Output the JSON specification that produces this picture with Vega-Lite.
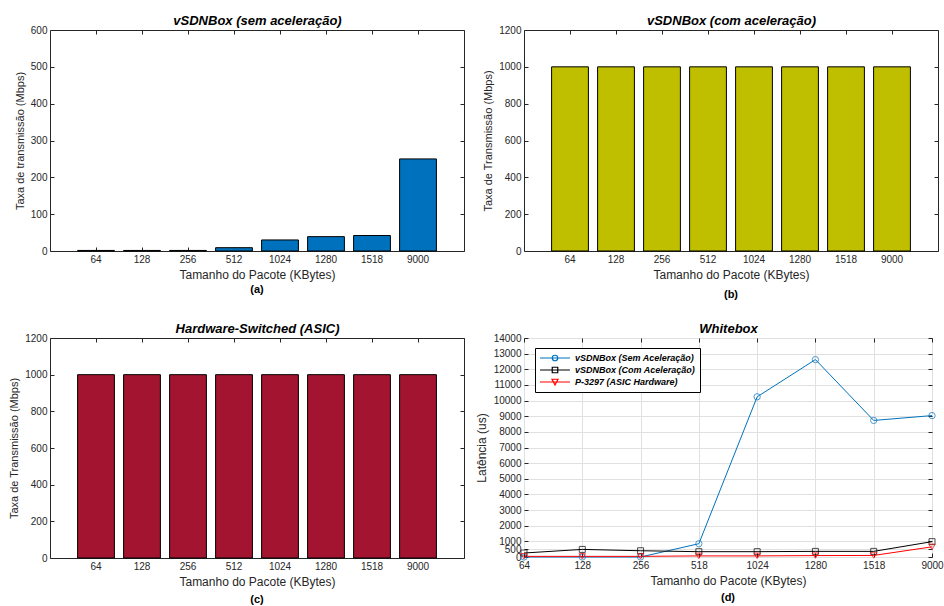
{
  "$schema": "https://vega.github.io/schema/vega-lite/v6.json",
  "padding": {"left": 8, "top": 14, "right": 0, "bottom": 0},
  "background": "white",
  "columns": 2,
  "bounds": "flush",
  "spacing": {"column": 60, "row": 87},
  "datasets": {
    "a": [
      {"size": "64", "rate": 1.5}, {"size": "128", "rate": 1.5}, {"size": "256", "rate": 1.5}, {"size": "512", "rate": 9},
      {"size": "1024", "rate": 30}, {"size": "1280", "rate": 39}, {"size": "1518", "rate": 42}, {"size": "9000", "rate": 250}
    ],
    "b": [
      {"size": "64", "rate": 1000}, {"size": "128", "rate": 1000}, {"size": "256", "rate": 1000}, {"size": "512", "rate": 1000},
      {"size": "1024", "rate": 1000}, {"size": "1280", "rate": 1000}, {"size": "1518", "rate": 1000}, {"size": "9000", "rate": 1000}
    ],
    "c": [
      {"size": "64", "rate": 1000}, {"size": "128", "rate": 1000}, {"size": "256", "rate": 1000}, {"size": "512", "rate": 1000},
      {"size": "1024", "rate": 1000}, {"size": "1280", "rate": 1000}, {"size": "1518", "rate": 1000}, {"size": "9000", "rate": 1000}
    ],
    "d": [
      {"size": "64", "series": "vSDNBox (Sem Aceleração)", "lat": 0},
      {"size": "128", "series": "vSDNBox (Sem Aceleração)", "lat": 0},
      {"size": "256", "series": "vSDNBox (Sem Aceleração)", "lat": 0},
      {"size": "518", "series": "vSDNBox (Sem Aceleração)", "lat": 850},
      {"size": "1024", "series": "vSDNBox (Sem Aceleração)", "lat": 10240},
      {"size": "1280", "series": "vSDNBox (Sem Aceleração)", "lat": 12620},
      {"size": "1518", "series": "vSDNBox (Sem Aceleração)", "lat": 8730},
      {"size": "9000", "series": "vSDNBox (Sem Aceleração)", "lat": 9040},
      {"size": "64", "series": "vSDNBox (Com Aceleração)", "lat": 255},
      {"size": "128", "series": "vSDNBox (Com Aceleração)", "lat": 485},
      {"size": "256", "series": "vSDNBox (Com Aceleração)", "lat": 400},
      {"size": "518", "series": "vSDNBox (Com Aceleração)", "lat": 340},
      {"size": "1024", "series": "vSDNBox (Com Aceleração)", "lat": 340},
      {"size": "1280", "series": "vSDNBox (Com Aceleração)", "lat": 360},
      {"size": "1518", "series": "vSDNBox (Com Aceleração)", "lat": 360},
      {"size": "9000", "series": "vSDNBox (Com Aceleração)", "lat": 980},
      {"size": "64", "series": "P-3297 (ASIC Hardware)", "lat": 40},
      {"size": "128", "series": "P-3297 (ASIC Hardware)", "lat": 40},
      {"size": "256", "series": "P-3297 (ASIC Hardware)", "lat": 40},
      {"size": "518", "series": "P-3297 (ASIC Hardware)", "lat": 70},
      {"size": "1024", "series": "P-3297 (ASIC Hardware)", "lat": 70},
      {"size": "1280", "series": "P-3297 (ASIC Hardware)", "lat": 90},
      {"size": "1518", "series": "P-3297 (ASIC Hardware)", "lat": 100},
      {"size": "9000", "series": "P-3297 (ASIC Hardware)", "lat": 650}
    ]
  },
  "concat": [
    {
      "width": 414, "height": 221,
      "data": {"name": "a"},
      "title": {"text": "(a)", "orient": "bottom", "fontSize": 11, "fontWeight": "bold", "color": "#000000", "offset": 4},
      "layer": [
        {
          "mark": {"type": "bar", "color": "#0072BD", "stroke": "#000000", "strokeWidth": 1},
          "encoding": {
            "x": {"field": "size", "type": "ordinal", "sort": null, "scale": {"paddingInner": 0.2, "paddingOuter": 0.6},
                  "axis": {"orient": "bottom", "title": "Tamanho do Pacote (KBytes)", "labelAngle": 0}},
            "y": {"field": "rate", "type": "quantitative", "scale": {"domain": [0, 600], "nice": false},
                  "axis": {"orient": "left", "values": [0, 100, 200, 300, 400, 500, 600], "format": "d", "title": "Taxa de transmissão (Mbps)", "titleFontSize": 11}}
          }
        },
        {
          "mark": {"type": "bar", "opacity": 0},
          "encoding": {
            "x": {"field": "size", "type": "ordinal", "sort": null,
                  "axis": {"orient": "top", "labels": false, "title": "vSDNBox (sem aceleração)", "titleFontSize": 13, "titleFontWeight": "bold", "titleFontStyle": "italic", "titleColor": "#000000", "titlePadding": 2}},
            "y": {"field": "rate", "type": "quantitative",
                  "axis": {"orient": "right", "values": [0, 100, 200, 300, 400, 500, 600], "labels": false, "title": null}}
          }
        }
      ],
      "resolve": {"axis": {"x": "independent", "y": "independent"}}
    },
    {
      "width": 414, "height": 221,
      "data": {"name": "b"},
      "title": {"text": "(b)", "orient": "bottom", "fontSize": 11, "fontWeight": "bold", "color": "#000000", "offset": 9},
      "layer": [
        {
          "mark": {"type": "bar", "color": "#BFBF00", "stroke": "#000000", "strokeWidth": 1},
          "encoding": {
            "x": {"field": "size", "type": "ordinal", "sort": null, "scale": {"paddingInner": 0.2, "paddingOuter": 0.6},
                  "axis": {"orient": "bottom", "title": "Tamanho do Pacote (KBytes)", "labelAngle": 0}},
            "y": {"field": "rate", "type": "quantitative", "scale": {"domain": [0, 1200], "nice": false},
                  "axis": {"orient": "left", "values": [0, 200, 400, 600, 800, 1000, 1200], "format": "d", "title": "Taxa de Transmissão (Mbps)", "titleFontSize": 11}}
          }
        },
        {
          "mark": {"type": "bar", "opacity": 0},
          "encoding": {
            "x": {"field": "size", "type": "ordinal", "sort": null,
                  "axis": {"orient": "top", "labels": false, "title": "vSDNBox (com aceleração)", "titleFontSize": 13, "titleFontWeight": "bold", "titleFontStyle": "italic", "titleColor": "#000000", "titlePadding": 2}},
            "y": {"field": "rate", "type": "quantitative",
                  "axis": {"orient": "right", "values": [0, 200, 400, 600, 800, 1000, 1200], "labels": false, "title": null}}
          }
        }
      ],
      "resolve": {"axis": {"x": "independent", "y": "independent"}}
    },
    {
      "width": 414, "height": 220,
      "data": {"name": "c"},
      "title": {"text": "(c)", "orient": "bottom", "fontSize": 11, "fontWeight": "bold", "color": "#000000", "offset": 7},
      "layer": [
        {
          "mark": {"type": "bar", "color": "#A2142F", "stroke": "#000000", "strokeWidth": 1},
          "encoding": {
            "x": {"field": "size", "type": "ordinal", "sort": null, "scale": {"paddingInner": 0.2, "paddingOuter": 0.6},
                  "axis": {"orient": "bottom", "title": "Tamanho do Pacote (KBytes)", "labelAngle": 0}},
            "y": {"field": "rate", "type": "quantitative", "scale": {"domain": [0, 1200], "nice": false},
                  "axis": {"orient": "left", "values": [0, 200, 400, 600, 800, 1000, 1200], "format": "d", "title": "Taxa de Transmissão (Mbps)", "titleFontSize": 11}}
          }
        },
        {
          "mark": {"type": "bar", "opacity": 0},
          "encoding": {
            "x": {"field": "size", "type": "ordinal", "sort": null,
                  "axis": {"orient": "top", "labels": false, "title": "Hardware-Switched (ASIC)", "titleFontSize": 13, "titleFontWeight": "bold", "titleFontStyle": "italic", "titleColor": "#000000", "titlePadding": 2}},
            "y": {"field": "rate", "type": "quantitative",
                  "axis": {"orient": "right", "values": [0, 200, 400, 600, 800, 1000, 1200], "labels": false, "title": null}}
          }
        }
      ],
      "resolve": {"axis": {"x": "independent", "y": "independent"}}
    },
    {
      "width": 408, "height": 219,
      "data": {"name": "d"},
      "title": {"text": "(d)", "orient": "bottom", "fontSize": 11, "fontWeight": "bold", "color": "#000000", "offset": 6},
      "layer": [
        {
          "mark": {"type": "line", "strokeWidth": 1},
          "encoding": {
            "x": {"field": "size", "type": "ordinal", "scale": {"type": "point", "padding": 0, "domain": ["64", "128", "256", "518", "1024", "1280", "1518", "9000"]},
                  "axis": {"orient": "bottom", "title": "Tamanho do Pacote (KBytes)", "labelAngle": 0, "grid": true, "gridColor": "#e0e0e0"}},
            "y": {"field": "lat", "type": "quantitative", "scale": {"domain": [0, 14000], "nice": false},
                  "axis": {"orient": "left", "values": [0, 500, 1000, 2000, 3000, 4000, 5000, 6000, 7000, 8000, 9000, 10000, 11000, 12000, 13000, 14000], "format": "d", "labelOverlap": false, "grid": true, "gridColor": "#e0e0e0", "title": "Latência (us)", "titleFontSize": 12}},
            "color": {"field": "series", "type": "nominal",
                      "scale": {"domain": ["vSDNBox (Sem Aceleração)", "vSDNBox (Com Aceleração)", "P-3297 (ASIC Hardware)"], "range": ["#0072BD", "#000000", "#FF0000"]},
                      "legend": {"orient": "none", "legendX": 485, "legendY": 318, "title": null, "strokeColor": "#000000", "fillColor": "#ffffff", "padding": 4,
                                 "labelFontSize": 9, "labelFontWeight": "bold", "labelFontStyle": "italic", "labelColor": "#000000",
                                 "symbolSize": 100, "symbolStrokeWidth": 1.2, "labelOffset": 24, "rowPadding": 0,
                                 "encode": {"symbols": {"update": {"fill": {"value": "transparent"},
                                   "shape": {"signal": "datum.value == 'vSDNBox (Sem Aceleração)' ? 'M-1,0H5M1.45,0A0.55,0.55 0 1,0 2.55,0A0.55,0.55 0 1,0 1.45,0' : datum.value == 'vSDNBox (Com Aceleração)' ? 'M-1,0H5M1.45,-0.55H2.55V0.55H1.45Z' : 'M-1,0H5M1.4,-0.55H2.6L2,0.6Z'"}}}}}}
          }
        },
        {
          "transform": [{"filter": "datum.series == 'vSDNBox (Sem Aceleração)'"}],
          "mark": {"type": "point", "shape": "circle", "filled": false, "color": "#0072BD", "size": 40, "strokeWidth": 1},
          "encoding": {
            "x": {"field": "size", "type": "ordinal", "axis": null},
            "y": {"field": "lat", "type": "quantitative", "axis": null}
          }
        },
        {
          "transform": [{"filter": "datum.series == 'vSDNBox (Com Aceleração)'"}],
          "mark": {"type": "point", "shape": "square", "filled": false, "color": "#000000", "size": 36, "strokeWidth": 1},
          "encoding": {
            "x": {"field": "size", "type": "ordinal", "axis": null},
            "y": {"field": "lat", "type": "quantitative", "axis": null}
          }
        },
        {
          "transform": [{"filter": "datum.series == 'P-3297 (ASIC Hardware)'"}],
          "mark": {"type": "point", "shape": "triangle-down", "filled": false, "color": "#FF0000", "size": 40, "strokeWidth": 1},
          "encoding": {
            "x": {"field": "size", "type": "ordinal", "axis": null},
            "y": {"field": "lat", "type": "quantitative", "axis": null}
          }
        },
        {
          "mark": {"type": "point", "opacity": 0},
          "encoding": {
            "x": {"field": "size", "type": "ordinal",
                  "axis": {"orient": "top", "labels": false, "title": "Whitebox", "titleFontSize": 13, "titleFontWeight": "bold", "titleFontStyle": "italic", "titleColor": "#000000", "titlePadding": 2}},
            "y": {"field": "lat", "type": "quantitative",
                  "axis": {"orient": "right", "values": [0, 500, 1000, 2000, 3000, 4000, 5000, 6000, 7000, 8000, 9000, 10000, 11000, 12000, 13000, 14000], "labels": false, "title": null}}
          }
        }
      ],
      "resolve": {"axis": {"x": "independent", "y": "independent"}}
    }
  ],
  "config": {
    "font": "Liberation Sans",
    "view": {"stroke": "#262626", "strokeWidth": 1},
    "axis": {"domain": false, "tickSize": -4, "tickColor": "#262626", "labelColor": "#262626", "labelFontSize": 10,
             "titleColor": "#262626", "titleFontWeight": "normal", "titleFontSize": 12, "grid": false, "labelPadding": 7, "titlePadding": 5}
  }
}
